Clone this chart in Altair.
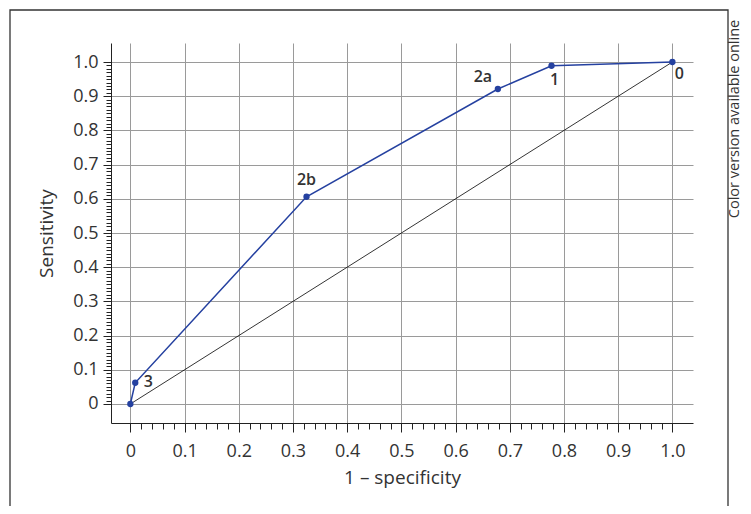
import altair as alt
import pandas as pd

# ROC operating points (1 - specificity, sensitivity)
point_labels = ["0", "1", "2a", "2b", "3", ""]
fpr = [1.0, 0.777, 0.678, 0.325, 0.009, 0.0]
tpr = [1.0, 0.989, 0.921, 0.606, 0.062, 0.0]

diag_x = [0.0, 1.0]
diag_y = [0.0, 1.0]

major_ticks = [round(i * 0.1, 1) for i in range(11)]
x_minor = [round(i * 0.02, 2) for i in range(51) if i % 5 != 0]
y_minor = [round(i * 0.01, 2) for i in range(101) if i % 10 != 0]

# label offsets (pixels) per point label
label_dx = {"0": 7, "1": 3, "2a": -15, "2b": 0, "3": 13}
label_dy = {"0": 12, "1": 14, "2a": -12, "2b": -17, "3": -1}

FONT = "Open Sans"
TXT = "#333333"
BLUE = "#2541a0"

roc = pd.DataFrame({"fpr": fpr, "tpr": tpr, "label": point_labels})
diag = pd.DataFrame({"fpr": diag_x, "tpr": diag_y})

xscale = alt.Scale(domain=[-0.0357, 1.038], nice=False, zero=False)
yscale = alt.Scale(domain=[-0.0556, 1.0556], nice=False, zero=False)

lab_expr = "datum.value == 0 ? '0' : format(datum.value, '.1f')"

x_major = alt.Axis(
    values=major_ticks, labelExpr=lab_expr, orient="bottom",
    grid=True, gridColor="#9a9a9a", gridWidth=1,
    domainColor="#222222", domainWidth=1, tickColor="#222222", tickSize=9, tickWidth=1,
    labelFontSize=18, labelColor=TXT, labelFont=FONT, labelPadding=10,
    title="1 – specificity", titleFont=FONT, titleFontSize=19, titleFontWeight="normal",
    titleColor=TXT, titlePadding=8,
)
y_major = alt.Axis(
    values=major_ticks, labelExpr=lab_expr, orient="left",
    grid=True, gridColor="#9a9a9a", gridWidth=1,
    domainColor="#222222", domainWidth=1, tickColor="#222222", tickSize=8, tickWidth=1,
    labelFontSize=18, labelColor=TXT, labelFont=FONT, labelPadding=5,
    title="Sensitivity", titleFont=FONT, titleFontSize=19, titleFontWeight="normal",
    titleColor=TXT, titlePadding=16,
)
x_min_axis = alt.Axis(values=x_minor, orient="bottom", labels=False, domain=False, grid=False,
                      tickColor="#222222", tickSize=6, tickWidth=1, title=None)
y_min_axis = alt.Axis(values=y_minor, orient="left", labels=False, domain=False, grid=False,
                      tickColor="#222222", tickSize=5, tickWidth=1, title=None)

diag_layer = alt.Chart(diag).mark_line(color="black", strokeWidth=0.8).encode(
    x=alt.X("fpr:Q", scale=xscale, axis=x_major),
    y=alt.Y("tpr:Q", scale=yscale, axis=y_major),
)

roc_line = alt.Chart(roc).mark_line(color=BLUE, strokeWidth=1.5).encode(
    x=alt.X("fpr:Q", scale=xscale, axis=x_min_axis),
    y=alt.Y("tpr:Q", scale=yscale, axis=y_min_axis),
    order=alt.Order("fpr:Q"),
)

roc_pts = alt.Chart(roc).mark_point(filled=True, color=BLUE, size=40, opacity=1).encode(
    x=alt.X("fpr:Q", scale=xscale, axis=None),
    y=alt.Y("tpr:Q", scale=yscale, axis=None),
)

text_layers = []
for lab in ["0", "1", "2a", "2b", "3"]:
    t = alt.Chart(roc).transform_filter(alt.datum.label == lab).mark_text(
        font=FONT, fontSize=16, fontWeight=600, color=TXT,
        dx=label_dx[lab], dy=label_dy[lab], align="center", baseline="middle",
    ).encode(
        x=alt.X("fpr:Q", scale=xscale, axis=None),
        y=alt.Y("tpr:Q", scale=yscale, axis=None),
        text="label:N",
    )
    text_layers.append(t)

dummy = pd.DataFrame({"a": [0]})
frame = alt.Chart(dummy).mark_rect(fill=None, stroke="#333333", strokeWidth=1.3).encode(
    x=alt.value(-101), x2=alt.value(617), y=alt.value(-33), y2=alt.value(600),
)
side_text = alt.Chart(dummy).mark_text(
    font=FONT, fontSize=14.5, color=TXT, angle=270, align="center", baseline="middle",
).encode(
    x=alt.value(624), y=alt.value(76), text=alt.value("Color version available online"),
)

chart = alt.layer(
    frame, diag_layer, roc_line, roc_pts, *text_layers, side_text
).resolve_axis(x="independent", y="independent").properties(
    width=582, height=380,
    autosize=alt.AutoSizeParams(type="none"),
    padding={"left": 103, "top": 35, "right": 50, "bottom": 83},
).configure_view(stroke=None)

chart.save("out.html", embed_options={"renderer": "svg", "actions": False})
